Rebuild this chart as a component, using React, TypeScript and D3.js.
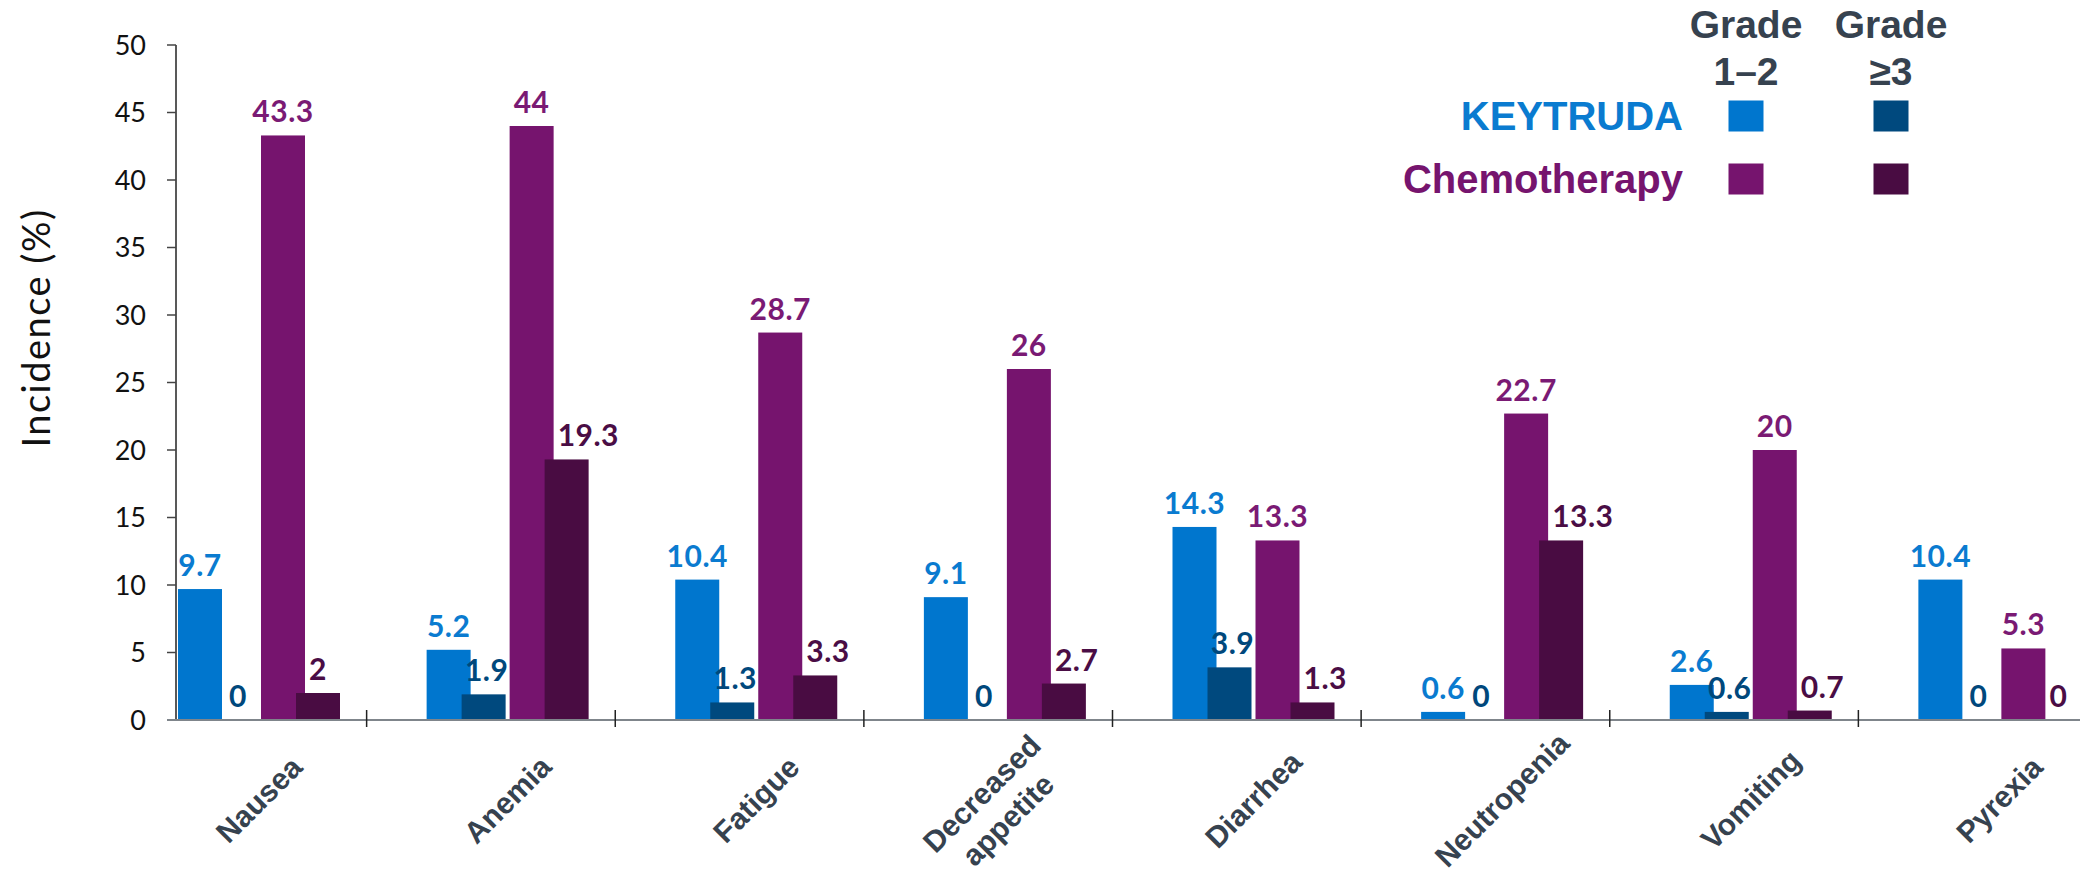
import * as d3 from "d3";
import { useEffect, useRef } from "react";

// adverse events, incidence in %
const categories = ["Nausea", "Anemia", "Fatigue", "Decreased appetite", "Diarrhea", "Neutropenia", "Vomiting", "Pyrexia"];
const keytrudaGrade12 = [9.7, 5.2, 10.4, 9.1, 14.3, 0.6, 2.6, 10.4];
const keytrudaGrade3 = [0, 1.9, 1.3, 0, 3.9, 0, 0.6, 0];
const chemoGrade12 = [43.3, 44, 28.7, 26, 13.3, 22.7, 20, 5.3];
const chemoGrade3 = [2, 19.3, 3.3, 2.7, 1.3, 13.3, 0.7, 0];
const yTicks = [0, 5, 10, 15, 20, 25, 30, 35, 40, 45, 50];

const series = [
    { name: "KEYTRUDA Grade 1–2", values: keytrudaGrade12, fill: "#0076CE", label: "#0A7BD0", offset: 60, anchor: "middle", shift: 0 },
    { name: "KEYTRUDA Grade ≥3", values: keytrudaGrade3, fill: "#00497E", label: "#00487C", offset: 95, anchor: "middle", shift: 3 },
    { name: "Chemotherapy Grade 1–2", values: chemoGrade12, fill: "#76146E", label: "#7A1A74", offset: 143, anchor: "middle", shift: 0 },
    { name: "Chemotherapy Grade ≥3", values: chemoGrade3, fill: "#490C42", label: "#4A0D45", offset: 178, anchor: "start", shift: -9 },
];

function barChart(divRef: React.RefObject<HTMLDivElement>) {
    const width = 2080;
    const height = 873;
    const axisX = 176;
    const barWidth = 44;
    const labelFont = "Lato, 'Open Sans', sans-serif";
    const boldFont = "'Liberation Sans', Arial, sans-serif";
    const slate = "#36424F";

    d3.select(divRef.current).selectAll("*").remove();

    const svg = d3.select(divRef.current)
        .append("svg")
        .attr("width", width)
        .attr("height", height)
        .style("position", "absolute")
        .style("left", 0)
        .style("top", 0)
        .style("background", "#ffffff");

    const x = d3.scaleBand<string>().domain(categories).range([118, 2107]);
    const y = d3.scaleLinear().domain([0, 50]).range([720, 45]);

    // y axis
    svg.append("line")
        .attr("x1", axisX).attr("x2", axisX)
        .attr("y1", y(50)).attr("y2", y(0))
        .attr("stroke", "#222").attr("stroke-width", 1.5);

    svg.selectAll(".ytick")
        .data(yTicks)
        .enter()
        .append("line")
        .attr("x1", axisX - 9).attr("x2", axisX)
        .attr("y1", d => y(d)).attr("y2", d => y(d))
        .attr("stroke", "#444").attr("stroke-width", 1.5);

    svg.selectAll(".ylabel")
        .data(yTicks)
        .enter()
        .append("text")
        .attr("x", 146)
        .attr("y", d => y(d))
        .attr("dy", "0.36em")
        .attr("text-anchor", "end")
        .style("font-family", labelFont)
        .style("font-size", "27px")
        .attr("fill", "#111")
        .text(d => d);

    svg.append("text")
        .attr("transform", "translate(50,328) rotate(-90)")
        .attr("text-anchor", "middle")
        .style("font-family", labelFont)
        .style("font-size", "38px")
        .style("letter-spacing", "1.5px")
        .attr("fill", "#111")
        .text("Incidence (%)");

    // bars, one series after the other so the darker bars sit on top
    series.forEach(s => {
        svg.selectAll(null)
            .data(categories)
            .enter()
            .append("rect")
            .attr("x", d => (x(d) as number) + s.offset)
            .attr("y", (d, i) => y(s.values[i]))
            .attr("width", barWidth)
            .attr("height", (d, i) => y(0) - y(s.values[i]))
            .attr("fill", s.fill);
    });

    // x axis
    svg.append("line")
        .attr("x1", axisX - 9).attr("x2", width)
        .attr("y1", y(0)).attr("y2", y(0))
        .attr("stroke", "#7F858B").attr("stroke-width", 2);

    svg.selectAll(".xtick")
        .data(categories.slice(1))
        .enter()
        .append("line")
        .attr("x1", d => x(d) as number).attr("x2", d => x(d) as number)
        .attr("y1", y(0) - 10).attr("y2", y(0) + 7)
        .attr("stroke", "#222").attr("stroke-width", 1.5);

    // value labels
    series.forEach(s => {
        svg.selectAll(null)
            .data(categories)
            .enter()
            .append("text")
            .attr("x", d => (x(d) as number) + s.offset + barWidth / 2 + s.shift)
            .attr("y", (d, i) => y(s.values[i]) - 13)
            .attr("text-anchor", s.anchor)
            .style("font-family", labelFont)
            .style("font-weight", "bold")
            .style("font-size", "30px")
            .style("letter-spacing", "0.5px")
            .attr("fill", s.label)
            .text((d, i) => s.values[i]);
    });

    // category labels, rotated
    const bw = x.bandwidth();
    categories.forEach(c => {
        const words = c.split(" ");
        const cx = (x(c) as number) + bw / 2;
        const multi = words.length > 1;
        const g = svg.append("g")
            .attr("transform", multi
                ? `translate(${cx + 14},${814}) rotate(-45)`
                : `translate(${cx + 24},${807}) rotate(-45)`);
        const lh = 37;
        words.forEach((w, j) => {
            g.append("text")
                .attr("x", 0)
                .attr("y", multi ? (j - 0.5) * lh : 0)
                .attr("text-anchor", "middle")
                .style("font-family", boldFont)
                .style("font-weight", "bold")
                .style("font-size", "30px")
                .attr("fill", slate)
                .text(w);
        });
    });

    // legend
    const colX = [1746, 1891];
    const rowY = [116, 179];
    const header = [["Grade", "1–2"], ["Grade", "≥3"]];
    header.forEach((h, j) => {
        h.forEach((t, k) => {
            svg.append("text")
                .attr("x", colX[j])
                .attr("y", 38 + k * 47)
                .attr("text-anchor", "middle")
                .style("font-family", boldFont)
                .style("font-weight", "bold")
                .style("font-size", "39px")
                .attr("fill", slate)
                .text(t);
        });
    });
    const rows = [
        { text: "KEYTRUDA", color: "#0A7BD0" },
        { text: "Chemotherapy", color: "#76146E" },
    ];
    rows.forEach((r, i) => {
        svg.append("text")
            .attr("x", 1683)
            .attr("y", rowY[i] + 14)
            .attr("text-anchor", "end")
            .style("font-family", boldFont)
            .style("font-weight", "bold")
            .style("font-size", "40px")
            .attr("fill", r.color)
            .text(r.text);
    });
    series.forEach((s, k) => {
        const row = Math.floor(k / 2);
        const col = k % 2;
        svg.append("rect")
            .attr("x", colX[col] - 17.5)
            .attr("y", rowY[row] - 15.5)
            .attr("width", 35)
            .attr("height", 31)
            .attr("fill", s.fill);
    });
}

export default function App() {
    const divRef = useRef<HTMLDivElement>(null);
    useEffect(() => {
        barChart(divRef);
    }, [divRef]);

    return (
        <div ref={divRef} />
    );
}
